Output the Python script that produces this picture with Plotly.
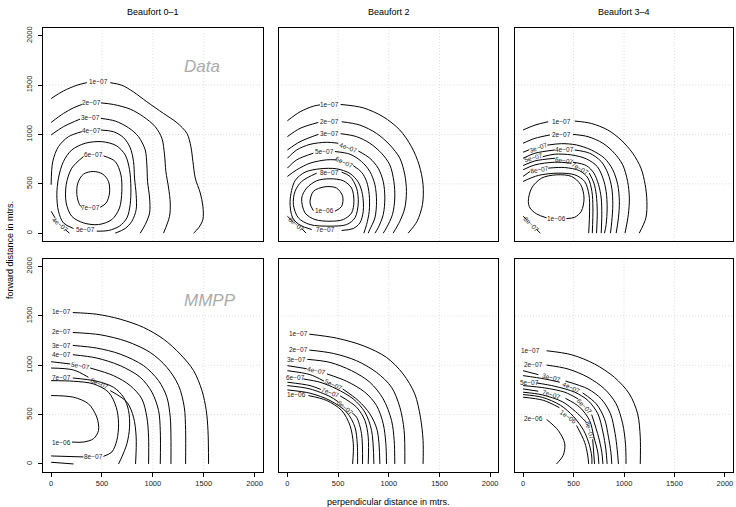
import plotly.graph_objects as go

# ---------------- data: contour lines (level, x in m, y in m) ----------------
columns = ["Beaufort 0\u20131", "Beaufort 2", "Beaufort 3\u20134"]
rows = ["Data", "MMPP"]
tick_vals = [0, 500, 1000, 1500, 2000]
grid_vals = [500, 1000, 1500]

data_b01 = [
    ("1e-07", [0,121,253,351,None,581,695,810,941,1105,1237,1335,1374,1394,1417,1466,1492,1492,1450,1400],
              [1364,1441,1499,1525,None,1525,1499,1431,1331,1213,1119,1011,877,726,558,407,272,138,54,0]),
    ("2e-07", [0,121,220,302,None,489,613,777,909,1023,1089,1115,1128,1155,1171,1164,1105],
              [1122,1213,1270,1304,None,1320,1304,1257,1179,1079,961,793,625,457,306,171,0]),
    ("3e-07", [0,121,285,None,489,630,761,859,925,941,948,968,968,925,876],
              [995,1079,1156,None,1163,1136,1068,978,843,692,524,356,205,87,0]),
    ("4e-07", [0,16,72,171,302,None,489,613,712,777,810,820,836,836,794,728,630],
              [491,726,877,978,1028,None,1045,1028,968,867,726,558,390,239,121,47,0]),
    ("4e-07", [0,39,None,138,180], [222,155,None,37,0]),
    ("5e-07", [220,121,72,56,72,121,203,335,499,640,728,771,784,777,745,672,564,449],
              [47,104,222,390,558,726,843,911,927,887,793,642,457,289,155,71,27,20]),
    ("6e-07", [515,630,686,695,672,597,466,318,203,148,148,203,318],
              [783,726,591,423,255,138,87,104,171,306,491,659,776]),
    ("7e-07", [482,541,574,564,508,417,318,262,253,279,302],
              [262,306,407,524,598,625,598,507,390,289,262]),
]
data_b01_labels = [("1e\u221207",466,1532,0),("2e\u221207",394,1320,0),("3e\u221207",390,1169,0),
                   ("4e\u221207",400,1045,0),("6e\u221207",417,793,0),("7e\u221207",390,255,0),
                   ("5e\u221207",335,37,0),("4e\u221207",89,87,40)]

data_b2 = [
    ("1e-07", [0,125,256,321,None,525,748,945,1109,1223,1299,1338,1332,1279,1191],
              [1139,1230,1287,1300,None,1304,1270,1179,1045,877,692,491,289,121,0]),
    ("2e-07", [0,125,305,None,535,715,879,1010,1109,1158,1174,1158,1109,1043],
              [978,1062,1122,None,1129,1095,1011,894,759,591,423,255,121,0]),
    ("3e-07", [0,125,305,None,525,682,813,928,1010,1050,1059,1036,977,945],
              [843,927,1001,None,1008,978,911,810,692,524,356,188,54,0]),
    ("4e-07", [0,92,223,387,502,None,699,813,895,945,961,945,895,863],
              [759,843,900,921,911,None,833,759,659,524,356,188,54,0]),
    ("5e-07", [0,92,256,None,469,617,731,813,863,879,863,813,797],
              [659,743,810,None,827,800,726,625,491,323,155,37,0]),
    ("6e-07", [0,92,223,387,485,None,649,731,781,807,807,781,754],
              [575,642,709,743,743,None,685,618,524,390,222,87,0]),
    ("6e-07", [0,52,None,141,184], [171,121,None,47,0]),
    ("7e-07", [535,649,715,748,741,699,617,485,321,174,75,26,52,125,240],
              [27,47,104,222,390,517,605,652,652,618,531,323,155,81,37]),
    ("8e-07", [535,617,682,699,666,584,420,223,108,59,75,141,289],
              [618,575,457,306,155,87,71,87,155,289,423,524,608]),
    ("9e-07", [141,190,289,420,551,633,656,633,551,420,272,174,141],
              [356,457,531,551,531,457,323,205,138,121,138,205,356]),
    ("1e-06", [469,535,545,485,371,256,223,256], [222,272,373,457,470,423,306,228]),
]
data_b2_labels = [("1e\u221207",420,1304,0),("2e\u221207",420,1129,0),("3e\u221207",420,1011,0),
                  ("4e\u221207",600,867,20),("5e\u221207",362,827,0),("6e\u221207",567,716,25),
                  ("8e\u221207",420,618,0),("1e\u221206",361,225,0),("7e\u221207",371,37,0),
                  ("6e\u221207",92,88,40)]

data_b34 = [
    ("1e-07", [0,118,249,None,512,676,840,971,1086,1168,1210,1227,1217,1151],
              [1045,1095,1129,None,1136,1112,1045,944,810,659,491,323,155,0]),
    ("2e-07", [0,118,266,None,495,643,791,905,987,1036,1053,1043,1010],
              [911,961,995,None,1001,978,911,810,692,524,356,188,0]),
    ("3e-07", [0,60,None,240,380,528,676,807,889,938,954,945,922],
              [820,845,None,892,907,894,843,759,642,491,323,155,0]),
    ("4e-07", [0,118,315,None,512,659,774,840,879,889,879,866],
              [759,810,843,None,843,810,726,608,457,289,121,0]),
    ("5e-07", [195,315,479,627,735,791,823,833,823,807],
              [775,800,793,753,675,558,423,255,87,0]),
    ("6e-07", [0,118,315,None,495,627,702,748,774,780,774],
              [685,732,759,None,719,685,608,491,356,188,0]),
    ("7e-07", [0,118,315,479,None,655,702,725,735,728],
              [642,692,719,709,None,610,507,390,222,0]),
    ("8e-07", [0,69,None,249,413,561,643,682,692,686],
              [575,625,None,659,665,632,558,423,255,0]),
    ("8e-07", [0,36,None,134,171], [171,138,None,37,0]),
    ("9e-07", [0,151,348,512,610,653,659,650], [524,585,608,591,524,390,222,0]),
    ("1e-06", [430,512,577,604,571,479,331,184,85,52,69,134,233],
              [148,161,222,356,491,575,591,558,457,323,255,195,155]),
]
data_b34_labels = [("1e\u221207",380,1136,0),("2e\u221207",380,1001,0),("3e\u221207",151,868,-20),
                   ("4e\u221207",413,845,0),("5e\u221207",102,770,-15),("6e\u221207",410,740,10),
                   ("7e\u221207",569,660,30),("8e\u221207",160,650,-10),("1e\u221206",331,150,0),
                   ("8e\u221207",85,87,45)]

mmpp_b01 = [
    ("1e-07", [213,449,679,909,1105,1269,1401,1483,1525,1542,1548],
              [1534,1517,1467,1383,1265,1113,945,743,542,340,0]),
    ("2e-07", [213,482,745,974,1138,1253,1309,1322,1322], [1332,1309,1241,1130,979,794,575,340,0]),
    ("3e-07", [213,449,679,909,1056,1138,1171,1178,1178], [1201,1174,1113,996,844,676,474,272,0]),
    ("4e-07", [213,449,679,876,991,1056,1073,1073], [1107,1073,996,878,727,542,340,0]),
    ("5e-07", [0,187,None,384,613,777,892,941,958,958], [1036,1013,None,972,895,794,659,474,272,0]),
    ("6e-07", [0,220,367,None,581,745,810,836,830], [972,952,878,None,743,626,474,272,0]),
    ("7e-07", [213,449,613,712,761,771,745,695,663], [871,838,777,676,542,373,205,71,0]),
    ("7e-07", [0,220], [17,0]),
    ("8e-07", [0,220,417,564,640,663,646,597,515,None,318,0],
              [844,838,811,727,575,407,239,121,77,None,71,81]),
    ("1e-06", [0,220,367,449,466,417,318,205], [693,676,609,474,340,256,222,222]),
]
mmpp_b01_labels = [("1e\u221207",105,1541,0),("2e\u221207",105,1339,0),("3e\u221207",105,1205,0),
                   ("4e\u221207",105,1114,0),("5e\u221207",285,994,10),("6e\u221207",474,812,25),
                   ("7e\u221207",105,878,0),("1e\u221206",105,222,0),("8e\u221207",417,74,0)]

mmpp_b2 = [
    ("1e-07", [216,485,748,977,1141,1256,1312,1338,1338], [1315,1275,1198,1080,912,710,474,239,0]),
    ("2e-07", [216,453,682,879,1027,1109,1151,1158], [1154,1120,1046,928,777,575,340,0]),
    ("3e-07", [197,420,633,813,945,1027,1053,1059], [1060,1029,945,828,659,441,239,0]),
    ("4e-07", [0,190,None,390,584,764,879,945,971,977], [996,965,None,912,838,727,592,407,205,0]),
    ("5e-07", [0,223,360,None,545,699,813,886,912], [945,905,840,None,760,642,508,340,0]),
    ("6e-07", [157,321,485,649,764,830,853], [861,828,760,659,525,340,0]),
    ("7e-07", [0,223,330,None,520,682,764,797,797], [828,794,755,None,690,575,441,272,0]),
    ("8e-07", [0,223,420,500,None,640,682,731,741], [794,760,683,630,None,515,474,306,0]),
    ("9e-07", [0,223,420,584,666,689,692], [750,717,643,525,373,205,0]),
    ("1e-06", [207,387,535,617,650,643], [693,643,542,390,205,0]),
]
mmpp_b2_labels = [("1e\u221207",108,1322,0),("2e\u221207",108,1157,0),("3e\u221207",92,1063,0),
                  ("4e\u221207",289,945,12),("5e\u221207",453,800,25),("6e\u221207",75,871,0),
                  ("7e\u221207",425,722,20),("8e\u221207",570,572,40),("1e\u221206",92,703,0)]

mmpp_b34 = [
    ("1e-07", [233,479,708,905,1053,1135,1161,1161], [1147,1107,1013,878,710,508,272,0]),
    ("2e-07", [233,446,643,807,922,987,1015,1020], [1002,962,878,760,609,407,200,0]),
    ("3e-07", [0,151,None,420,643,774,866,912,932,945], [945,905,None,840,760,659,508,306,150,0]),
    ("4e-07", [0,216,364,None,590,725,807,846,870,879], [895,861,828,None,720,609,457,272,120,0]),
    ("5e-07", [134,315,512,643,741,791,820,833], [821,787,727,643,508,323,150,0]),
    ("6e-07", [0,216,413,545,None,680,748,780,791], [794,770,727,659,None,500,272,120,0]),
    ("7e-07", [0,151,None,420,561,659,702,740,751], [760,737,None,665,575,441,272,120,0]),
    ("8e-07", [0,190,390,520,630,None,690,708], [727,700,630,530,420,None,250,0]),
    ("9e-07", [0,190,370,500,600,655,680,682], [703,675,595,480,340,200,80,0]),
    ("1e-06", [0,200,360,None,530,610,640,650], [676,645,570,None,390,220,90,0]),
    ("2e-06", [233,348,413,397,331], [451,340,205,87,0]),
]
mmpp_b34_labels = [("1e\u221207",69,1147,0),("2e\u221207",102,1006,0),("3e\u221207",282,872,15),
                   ("4e\u221207",479,774,25),("5e\u221207",59,828,0),("6e\u221207",612,580,45),
                   ("7e\u221207",282,703,18),("8e\u221207",660,335,75),("1e\u221206",446,480,35),
                   ("2e\u221206",102,457,0)]

panels = [(data_b01, data_b01_labels), (data_b2, data_b2_labels), (data_b34, data_b34_labels),
          (mmpp_b01, mmpp_b01_labels), (mmpp_b2, mmpp_b2_labels), (mmpp_b34, mmpp_b34_labels)]

# ---------------- figure ----------------
W, H = 736, 507
FONT = "Liberation Sans, Arial, Helvetica, sans-serif"
col_dom = [(43/W, 262.7/W), (279.3/W, 498.3/W), (515/W, 733/W)]
row_dom = [(1-240/H, 1-26/H), (1-471.7/H, 1-257.7/H)]
RNG = [-80, 2080]

fig = go.Figure()
layout = dict(width=W, height=H, margin=dict(l=0, r=0, t=0, b=0),
              paper_bgcolor="white", plot_bgcolor="white", showlegend=False,
              font=dict(family=FONT, color="black"))
shapes, annotations = [], []

for i, (lines, labs) in enumerate(panels):
    r, c = divmod(i, 3)
    n = i + 1
    xa = "x" if n == 1 else f"x{n}"
    ya = "y" if n == 1 else f"y{n}"
    for lvl, xs, ys in lines:
        fig.add_trace(go.Scatter(x=xs, y=ys, mode="lines", name=lvl,
                                 line=dict(color="black", width=1, shape="spline", smoothing=0.9),
                                 xaxis=xa, yaxis=ya, hoverinfo="skip", connectgaps=False))
    for txt, x, y, ang in labs:
        annotations.append(dict(text=txt, x=x, y=y, xref=xa, yref=ya, showarrow=False,
                                textangle=ang, font=dict(size=6.5, color="#222222", family=FONT)))
    for v in grid_vals:
        shapes.append(dict(type="line", xref=xa, yref=ya, x0=v, x1=v, y0=RNG[0], y1=RNG[1],
                           line=dict(color="#d6d6d6", width=0.8, dash="1px,2px"), layer="below"))
        shapes.append(dict(type="line", xref=xa, yref=ya, y0=v, y1=v, x0=RNG[0], x1=RNG[1],
                           line=dict(color="#d6d6d6", width=0.8, dash="1px,2px"), layer="below"))
    xkey = "xaxis" if n == 1 else f"xaxis{n}"
    ykey = "yaxis" if n == 1 else f"yaxis{n}"
    layout[xkey] = dict(domain=list(col_dom[c]), range=RNG, anchor=ya, showgrid=False, zeroline=False,
                        showline=True, mirror=True, linecolor="black", linewidth=1,
                        ticks="outside" if r == 1 else "", ticklen=4, tickcolor="black",
                        tickvals=tick_vals, showticklabels=(r == 1), ticklabelstandoff=0,
                        tickfont=dict(size=7.5, family=FONT, color="#222"), fixedrange=True)
    layout[ykey] = dict(domain=list(row_dom[r]), range=RNG, anchor=xa, showgrid=False, zeroline=False,
                        showline=True, mirror=True, linecolor="black", linewidth=1,
                        ticks="outside" if c == 0 else "", ticklen=4, tickcolor="black",
                        tickvals=tick_vals, showticklabels=(c == 0), tickangle=-90, ticklabelstandoff=3,
                        tickfont=dict(size=7.5, family=FONT, color="#222"), fixedrange=True)

# strip titles
for c, name in enumerate(columns):
    annotations.append(dict(text=name, x=(col_dom[c][0] + col_dom[c][1]) / 2, y=1 - 10/H,
                            xref="paper", yref="paper", showarrow=False, xanchor="center", yanchor="middle",
                            font=dict(size=9, family=FONT, color="black")))
# row tags
annotations.append(dict(text=rows[0], x=1481, y=1686, xref="x", yref="y", showarrow=False,
                        font=dict(size=17, family=FONT, color="#ababab", style="italic")))
annotations.append(dict(text=rows[1], x=1562, y=1653, xref="x4", yref="y4", showarrow=False,
                        font=dict(size=17, family=FONT, color="#ababab", style="italic")))
# axis titles
annotations.append(dict(text="forward distance in mtrs.", x=10/W, y=1 - 249/H, xref="paper", yref="paper",
                        showarrow=False, textangle=-90, xanchor="center", yanchor="middle",
                        font=dict(size=9, family=FONT, color="black")))
annotations.append(dict(text="perpendicular distance in mtrs.", x=388/W, y=1 - 502/H, xref="paper",
                        yref="paper", showarrow=False, xanchor="center", yanchor="middle",
                        font=dict(size=9, family=FONT, color="black")))

layout["shapes"] = shapes
layout["annotations"] = annotations
fig.update_layout(**layout)
fig.write_html("out.html", config={"displayModeBar": False},
               post_script="document.body.style.margin='0';document.body.style.overflow='hidden';")
